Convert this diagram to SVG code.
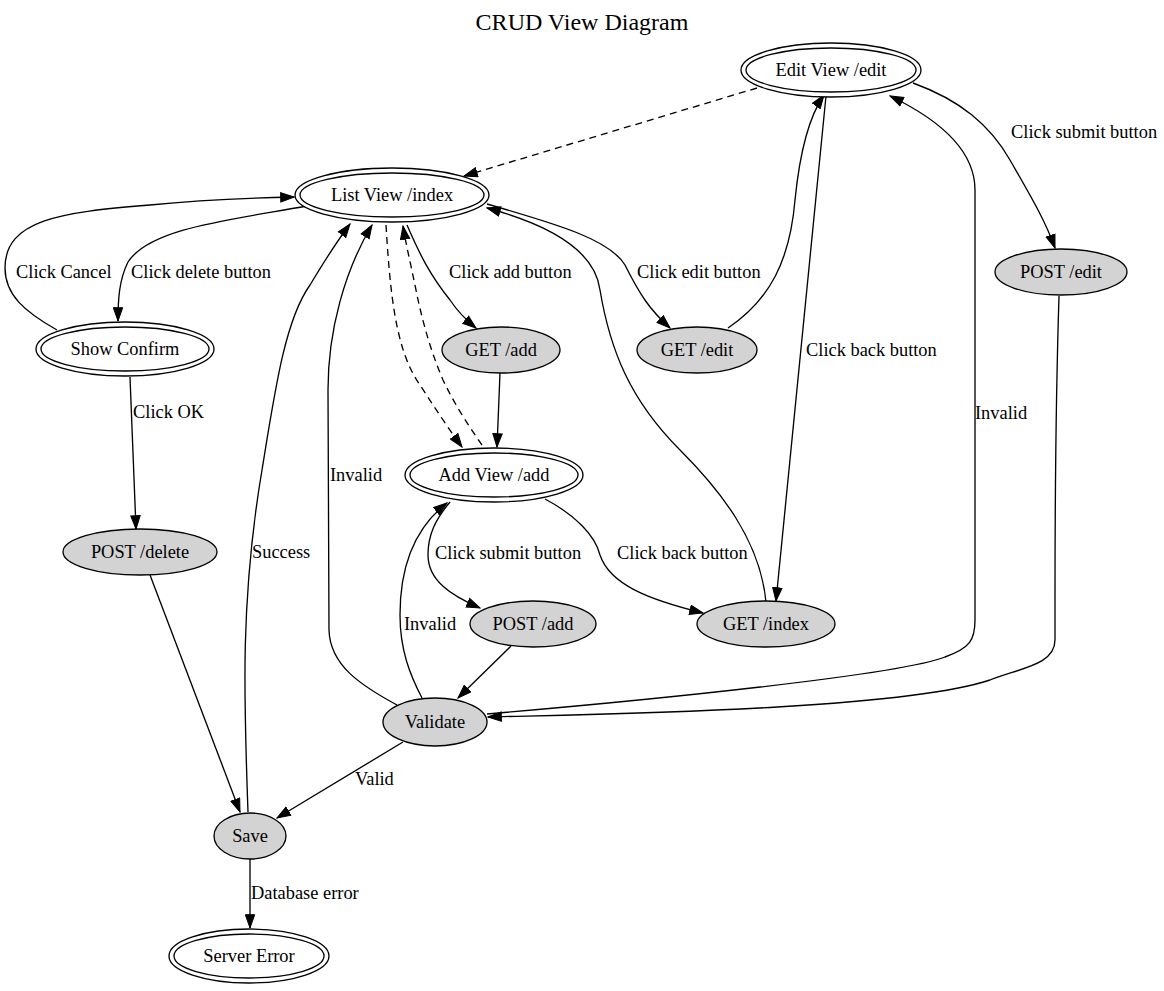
<svg xmlns="http://www.w3.org/2000/svg" width="1164" height="991" viewBox="0 0 1164 991">
<style>
text{font-family:"Liberation Serif","Times New Roman",serif;font-size:18.4px;fill:#000}
.n{text-anchor:middle}
.title{font-size:24px;text-anchor:middle}
.v{fill:#fff;stroke:#000;stroke-width:1.33}
.a{fill:#d3d3d3;stroke:#000;stroke-width:1.33}
.e{fill:none;stroke:#000;stroke-width:1.33;marker-end:url(#arr)}
.d{stroke-dasharray:7,5}
</style>
<defs>
<marker id="arr" markerUnits="userSpaceOnUse" markerWidth="15" markerHeight="11" viewBox="0 0 15 11" refX="13.8" refY="5.5" orient="auto">
<path d="M0.5,0.8 L13.8,5.5 L0.5,10.2 z" fill="#000" stroke="#000" stroke-width="1"/>
</marker>
</defs>
<rect width="1164" height="991" fill="#fff"/>
<text class="title" x="582" y="30">CRUD View Diagram</text>

<g id="connectors">
<path class="e d" d="M757,88 L464,176"/>
<path class="e" d="M307,206 C230,220 150,228 128,262 C119,280 118,300 118,321"/>
<path class="e" d="M57,330 C25,312 5,295 5,268 C5,220 60,212 150,205 C200,200 250,198 294,197"/>
<path class="e" d="M130,377 L136,529"/>
<path class="e" d="M150,575 L240,812"/>
<path class="e" d="M248,812 C244,700 240,600 262,470 C275,390 285,320 310,285 C325,260 338,240 350,224"/>
<path class="e" d="M397,705 C360,685 330,665 329,630 L328,390 C328,330 345,270 372,225"/>
<path class="e d" d="M386,225 C390,290 395,350 420,385 C435,408 448,428 462,447"/>
<path class="e d" d="M482,445 C468,425 455,405 443,380 C428,345 420,310 416,290 C411,265 406,245 403,226"/>
<path class="e" d="M407,225 C420,255 430,275 450,300 C458,312 466,320 476,328"/>
<path class="e" d="M487,204 C560,225 610,240 625,265 C640,295 650,310 670,328"/>
<path class="e" d="M766,602 C760,540 720,490 680,450 C630,400 610,350 600,290 C595,250 550,225 487,208"/>
<path class="e" d="M728,328 C770,300 790,260 795,200 C800,150 810,115 824,95"/>
<path class="e" d="M826,96 L776,601"/>
<path class="e" d="M913,83 C960,100 990,125 1010,160 C1030,195 1045,220 1055,248"/>
<path class="e" d="M1059,296 C1057,360 1055,480 1055,600 L1055,640 C1055,665 1020,668 990,680 C900,710 600,714 488,717"/>
<path class="e" d="M487,714 C650,700 900,675 945,657 C970,648 975,640 975,620 L975,190 C975,150 940,120 890,96"/>
<path class="e" d="M500,373 L497,447"/>
<path class="e" d="M450,502 C435,520 428,535 428,555 C428,580 450,595 480,608"/>
<path class="e" d="M545,499 C575,515 595,535 600,555 C610,585 650,600 703,613"/>
<path class="e" d="M511,646 L458,698"/>
<path class="e" d="M422,698 C410,675 400,650 400,615 C400,570 412,530 447,503"/>
<path class="e" d="M403,742 L277,818"/>
<path class="e" d="M250,859 L250,928"/>
</g>

<g id="edge-labels">
<text x="131" y="278">Click delete button</text>
<text x="16" y="278">Click Cancel</text>
<text x="133" y="418">Click OK</text>
<text x="252" y="558">Success</text>
<text x="330" y="481">Invalid</text>
<text x="449" y="278">Click add button</text>
<text x="637" y="278">Click edit button</text>
<text x="806" y="356">Click back button</text>
<text x="1011" y="138">Click submit button</text>
<text x="975" y="419">Invalid</text>
<text x="435" y="559">Click submit button</text>
<text x="617" y="559">Click back button</text>
<text x="404" y="630">Invalid</text>
<text x="355" y="785">Valid</text>
<text x="251" y="899">Database error</text>
</g>

<g id="edit-view">
<ellipse class="v" cx="831" cy="70" rx="90" ry="27"/>
<ellipse class="v" cx="831" cy="70" rx="85" ry="22"/>
<text class="n" x="831" y="76">Edit View /edit</text>
</g>
<g id="list-view">
<ellipse class="v" cx="392" cy="195" rx="97" ry="27"/>
<ellipse class="v" cx="392" cy="195" rx="92" ry="22"/>
<text class="n" x="392" y="201">List View /index</text>
</g>
<g id="show-confirm">
<ellipse class="v" cx="125" cy="349" rx="89" ry="27"/>
<ellipse class="v" cx="125" cy="349" rx="84" ry="22"/>
<text class="n" x="125" y="355">Show Confirm</text>
</g>
<g id="get-add">
<ellipse class="a" cx="501" cy="350" rx="59" ry="23"/>
<text class="n" x="501" y="356">GET /add</text>
</g>
<g id="get-edit">
<ellipse class="a" cx="697" cy="350" rx="60" ry="23"/>
<text class="n" x="697" y="356">GET /edit</text>
</g>
<g id="post-edit">
<ellipse class="a" cx="1061" cy="272" rx="66" ry="23"/>
<text class="n" x="1061" y="278">POST /edit</text>
</g>
<g id="add-view">
<ellipse class="v" cx="494" cy="475" rx="89" ry="27"/>
<ellipse class="v" cx="494" cy="475" rx="84" ry="22"/>
<text class="n" x="494" y="481">Add View /add</text>
</g>
<g id="post-delete">
<ellipse class="a" cx="140" cy="552" rx="77" ry="23"/>
<text class="n" x="140" y="558">POST /delete</text>
</g>
<g id="post-add">
<ellipse class="a" cx="533" cy="624" rx="63" ry="23"/>
<text class="n" x="533" y="630">POST /add</text>
</g>
<g id="get-index">
<ellipse class="a" cx="766" cy="624" rx="69" ry="23"/>
<text class="n" x="766" y="630">GET /index</text>
</g>
<g id="validate">
<ellipse class="a" cx="435" cy="722" rx="52" ry="24"/>
<text class="n" x="435" y="728">Validate</text>
</g>
<g id="save">
<ellipse class="a" cx="250" cy="836" rx="36" ry="23"/>
<text class="n" x="250" y="842">Save</text>
</g>
<g id="server-error">
<ellipse class="v" cx="249" cy="956" rx="80" ry="27"/>
<ellipse class="v" cx="249" cy="956" rx="75" ry="22"/>
<text class="n" x="249" y="962">Server Error</text>
</g>
</svg>
